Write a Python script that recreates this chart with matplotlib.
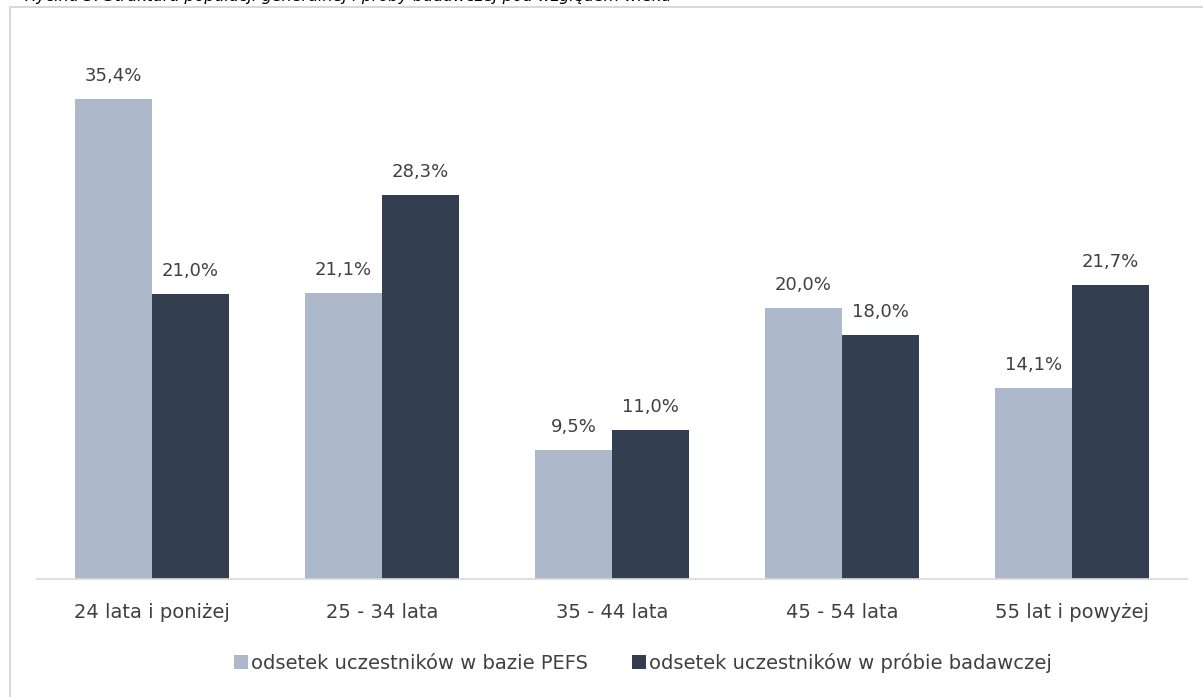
import matplotlib.pyplot as plt
import numpy as np
from matplotlib.patches import Rectangle

categories = ["24 lata i poniżej", "25 - 34 lata", "35 - 44 lata", "45 - 54 lata", "55 lat i powyżej"]
pefs_share = [35.4, 21.1, 9.5, 20.0, 14.1]
sample_share = [21.0, 28.3, 11.0, 18.0, 21.7]
series_names = ["odsetek uczestników w bazie PEFS", "odsetek uczestników w próbie badawczej"]

light = "#ADB9CA"
dark = "#333F50"
text_col = "#404040"

plt.rcParams['font.family'] = ['DejaVu Sans']

fig = plt.figure(figsize=(12.03, 6.97), dpi=100)

# caption line above the chart frame, cut by the top edge of the image
fig.text(0.021, 1.0 - 1.0 / 697, "Rycina 3. Struktura populacji generalnej i próby badawczej pod względem wieku",
         fontsize=11.5, color="#000000", ha="left", va="baseline", fontstyle="italic")

# chart frame
frame = Rectangle((10 / 1203, -0.05), 1.2, (697 - 7) / 697 + 0.05, transform=fig.transFigure,
                  fill=False, edgecolor="#D9D9D9", linewidth=1.5)
fig.patches.append(frame)

ax = fig.add_axes([37 / 1203, 118 / 697, 1150 / 1203, 542.4 / 697])

x = np.arange(len(categories))
w = 0.335
b1 = ax.bar(x - w / 2, pefs_share, width=w, color=light, label=series_names[0])
b2 = ax.bar(x + w / 2, sample_share, width=w, color=dark, label=series_names[1])

for bars, vals in ((b1, pefs_share), (b2, sample_share)):
    for rect, v in zip(bars, vals):
        ax.annotate(f"{v:.1f}%".replace(".", ","),
                    (rect.get_x() + rect.get_width() / 2, v),
                    xytext=(0, 10), textcoords="offset points",
                    ha="center", va="bottom", fontsize=13, color=text_col)

ax.set_xlim(-0.5, len(categories) - 0.5)
ax.set_ylim(0, 40)
ax.set_yticks([])
ax.set_xticks(x)
ax.set_xticklabels(categories, fontsize=14, color=text_col)
ax.tick_params(axis="x", length=0, pad=17)
for s in ("top", "right", "left"):
    ax.spines[s].set_visible(False)
ax.spines["bottom"].set_color("#D9D9D9")
ax.spines["bottom"].set_linewidth(1.2)

leg = fig.legend(handles=[b1, b2], labels=series_names, loc="center",
                 bbox_to_anchor=(643 / 1203, 1 - 663 / 697), ncol=2, frameon=False,
                 fontsize=14, handlelength=0.7, handleheight=0.7, handletextpad=0.15,
                 columnspacing=2.3)
for t in leg.get_texts():
    t.set_color(text_col)

fig.savefig("out.png", dpi=100)
